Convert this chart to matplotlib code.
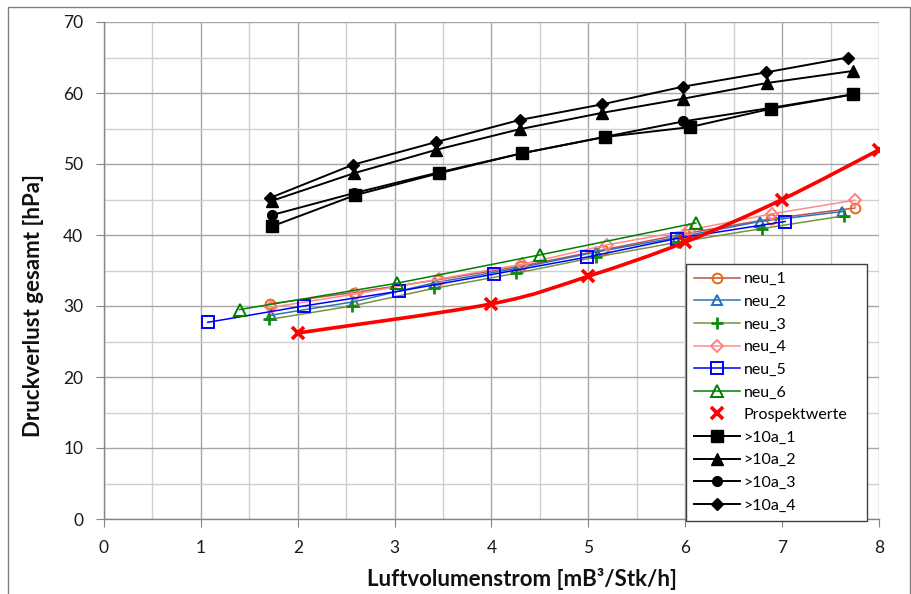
import numpy as np
import matplotlib
matplotlib.use("Agg")
import matplotlib.pyplot as plt
from matplotlib.path import Path
from matplotlib.patches import PathPatch, Rectangle

plt.rcParams['font.family'] = ['Lato', 'DejaVu Sans']

# --- measured series -------------------------------------------------------
neu1_x = [1.71, 2.58, 3.45, 4.30, 5.15, 6.00, 6.89, 7.75]
neu1_y = [30.3, 31.9, 33.7, 35.6, 37.9, 40.2, 42.3, 43.8]

neu2_x = [1.72, 2.58, 3.42, 4.26, 5.08, 5.93, 6.77, 7.62]
neu2_y = [28.7, 30.6, 33.3, 35.3, 37.6, 39.7, 41.9, 43.3]

neu3_x = [1.70, 2.56, 3.41, 4.25, 5.08, 5.93, 6.79, 7.64]
neu3_y = [28.1, 30.0, 32.5, 34.6, 36.9, 39.0, 40.9, 42.7]

neu4_x = [1.72, 2.60, 3.46, 4.32, 5.19, 6.04, 6.90, 7.75]
neu4_y = [29.8, 31.7, 33.8, 35.9, 38.6, 40.7, 43.0, 44.9]

neu5_x = [1.07, 2.06, 3.05, 4.03, 4.99, 5.91, 7.03]
neu5_y = [27.7, 30.0, 32.1, 34.5, 36.9, 39.5, 41.9]

neu6_x = [1.40, 3.02, 4.50, 6.11]
neu6_y = [29.5, 33.2, 37.2, 41.7]

prosp_x = [2, 4, 5, 6, 7, 8]
prosp_y = [26.2, 30.3, 34.2, 39.0, 45.0, 52.0]

alt1_x = [1.73, 2.59, 3.46, 4.31, 5.17, 6.05, 6.89, 7.73]
alt1_y = [41.2, 45.6, 48.7, 51.5, 53.8, 55.2, 57.8, 59.8]

alt2_x = [1.73, 2.58, 3.43, 4.29, 5.14, 5.98, 6.84, 7.73]
alt2_y = [44.8, 48.7, 52.0, 54.9, 57.2, 59.2, 61.4, 63.1]

alt3_x = [1.73, 2.58, 3.45, 4.31, 5.16, 5.98, 6.88, 7.73]
alt3_y = [42.8, 45.9, 48.8, 51.5, 53.8, 56.0, 57.9, 59.8]

alt4_x = [1.71, 2.57, 3.43, 4.29, 5.14, 5.98, 6.83, 7.68]
alt4_y = [45.2, 49.9, 53.1, 56.2, 58.4, 60.9, 62.9, 65.0]

x_ticks = list(range(0, 9))
y_ticks = list(range(0, 71, 10))
x_label = "Luftvolumenstrom [mB³/Stk/h]"
y_label = "Druckverlust gesamt [hPa]"

# --- figure ------------------------------------------------------------------
fig = plt.figure(figsize=(9.12, 5.94), dpi=100)
fig.patch.set_facecolor('white')
ax = fig.add_axes([104/912, 1-519/594, 775/912, 497/594])

ax.set_xlim(0, 8)
ax.set_ylim(0, 70)
ax.set_xticks(x_ticks)
ax.set_yticks(y_ticks)
ax.set_xticks(np.arange(0.5, 8, 1.0), minor=True)
ax.set_yticks(np.arange(5, 70, 10), minor=True)
ax.grid(which='major', color='#a6a6a6', linewidth=1.0, zorder=0)
ax.grid(which='minor', color='#d0d0d0', linewidth=1.0, zorder=0)
ax.tick_params(which='minor', length=0)
ax.tick_params(which='major', direction='out', length=6, color='#868686',
               labelsize=12.5, labelcolor='#1a1a1a', pad=9)
for side in ('top', 'right'):
    ax.spines[side].set_visible(False)
for side in ('left', 'bottom'):
    ax.spines[side].set_color('#868686')
    ax.spines[side].set_linewidth(1.0)
ax.set_axisbelow(True)

ax.set_xlabel(x_label, fontsize=16, fontweight='bold', color='#111111')
ax.xaxis.set_label_coords(0.54, -0.098)
ax.set_ylabel(y_label, fontsize=16, fontweight='bold', color='#111111')
ax.yaxis.set_label_coords(-0.077, 0.43)

lw = 1.1
ax.plot(neu1_x, neu1_y, color='#c0504d', lw=lw, marker='o', ms=7,
        mfc='none', mec='#e46c0a', mew=1.4, label='neu_1', zorder=3)
ax.plot(neu2_x, neu2_y, color='#2e75b6', lw=lw, marker='^', ms=7,
        mfc='none', mec='#1f70c0', mew=1.4, label='neu_2', zorder=3)
ax.plot(neu3_x, neu3_y, color='#77933c', lw=lw, marker='+', ms=9,
        mec='#138a13', mew=2.0, label='neu_3', zorder=3)
ax.plot(neu4_x, neu4_y, color='#ff8a8a', lw=lw, marker='D', ms=6,
        mfc='none', mec='#ff8080', mew=1.4, label='neu_4', zorder=3)
ax.plot(neu5_x, neu5_y, color='#0000ff', lw=lw, marker='s', ms=8,
        mfc='none', mec='#0000ff', mew=1.4, label='neu_5', zorder=3)
ax.plot(neu6_x, neu6_y, color='#008000', lw=lw, marker='^', ms=8,
        mfc='none', mec='#008000', mew=1.4, label='neu_6', zorder=3)


def smooth_path(xs, ys):
    """Catmull-Rom style Bezier through the given points."""
    pts = np.column_stack([xs, ys]).astype(float)
    n = len(pts)
    verts = [pts[0]]
    codes = [Path.MOVETO]
    for i in range(n - 1):
        p0 = pts[i - 1] if i > 0 else pts[i]
        p1 = pts[i]
        p2 = pts[i + 1]
        p3 = pts[i + 2] if i + 2 < n else pts[i + 1]
        c1 = p1 + (p2 - p0) / 6.0
        c2 = p2 - (p3 - p1) / 6.0
        verts += [c1, c2, p2]
        codes += [Path.CURVE4] * 3
    return Path(verts, codes)


ax.add_patch(PathPatch(smooth_path(prosp_x, prosp_y), facecolor='none',
                       edgecolor='#ff0000', lw=2.6, zorder=4))
ax.plot(prosp_x, prosp_y, linestyle='none', marker='x', ms=8, mew=2.6,
        color='#ff0000', label='Prospektwerte', zorder=5)

blk = dict(color='black', lw=1.4, zorder=4)
ax.plot(alt1_x, alt1_y, marker='s', ms=8, label='>10a_1', **blk)
ax.plot(alt2_x, alt2_y, marker='^', ms=8, label='>10a_2', **blk)
ax.plot(alt3_x, alt3_y, marker='o', ms=7, label='>10a_3', **blk)
ax.plot(alt4_x, alt4_y, marker='D', ms=6, label='>10a_4', **blk)

leg = ax.legend(loc='upper left', bbox_to_anchor=(0.751, 0.513, 0.234, 0.0),
                mode='expand', fontsize=11.5, frameon=True, fancybox=False,
                edgecolor='#404040', framealpha=1.0, borderpad=0.5,
                labelspacing=0.53, handlelength=2.9, handletextpad=0.2,
                borderaxespad=0.0)
leg.get_frame().set_linewidth(1.0)
leg.set_zorder(10)

# outer chart border
fig.patches.append(Rectangle((8/912, -0.02), 902/912, 1.02 - 7/594,
                             transform=fig.transFigure, fill=False,
                             edgecolor='#7f7f7f', lw=1.0))

fig.savefig('out.png', dpi=100)
